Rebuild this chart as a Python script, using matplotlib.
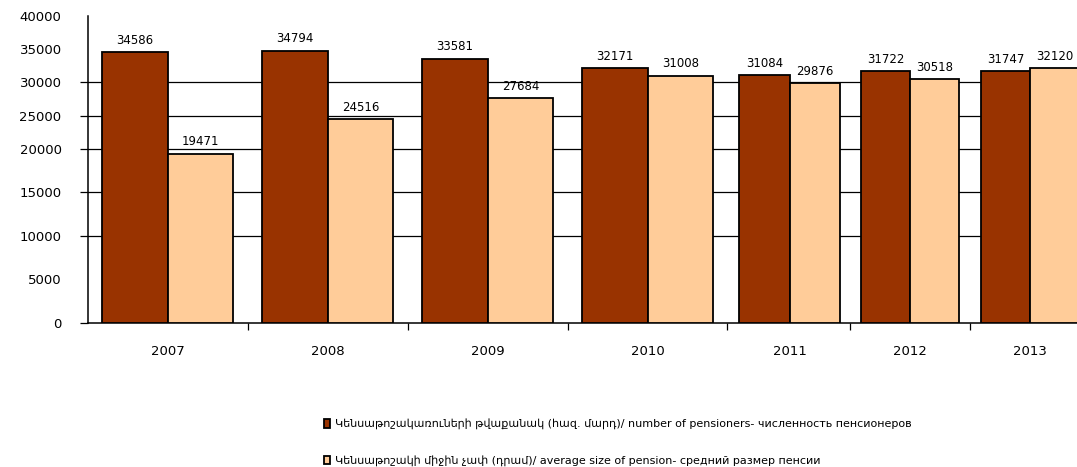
import numpy as np
import matplotlib
matplotlib.use('Agg')
import matplotlib.pyplot as plt

plt.rcParams['font.family'] = ['DejaVu Sans']

# data
years = ['2007', '2008', '2009', '2010', '2011', '2012', '2013']
pensioners = [34586, 34794, 33581, 32171, 31084, 31722, 31747]
avg_pension = [19471, 24516, 27684, 31008, 29876, 30518, 32120]
y_ticks = [0, 5000, 10000, 15000, 20000, 25000, 30000, 35000, 40000]
grid_levels = [10000, 15000, 20000, 25000, 30000]

label_1 = ('Կենսաթոշակառուների թվաքանակ (հազ. մարդ)/ number of pensioners'
           '- численность пенсионеров')
label_2 = ('Կենսաթոշակի միջին չափ (դրամ)/ average size of pension'
           '- средний размер пенсии')

dark = '#993300'
light = '#FFCC99'


# the source picture is squeezed: upper half of y and the last years of x
def y_fwd(v):
    v = np.asarray(v, dtype=float)
    return np.where(v <= 20000, v, 20000 + (v - 20000) * 0.764)


def y_inv(s):
    s = np.asarray(s, dtype=float)
    return np.where(s <= 20000, s, 20000 + (s - 20000) / 0.764)


x_knots = [-10.0, 3.5, 4.0, 20.0]
x_px = [-1433.0, 727.0, 790.0, 2710.0]


def x_fwd(v):
    return np.interp(np.asarray(v, dtype=float), x_knots, x_px)


def x_inv(s):
    return np.interp(np.asarray(s, dtype=float), x_px, x_knots)


fig = plt.figure(figsize=(10.77, 4.67), dpi=100)
ax = fig.add_axes([88 / 1077, 144 / 467, 1 - 88 / 1077, (323 - 16) / 467])
ax.set_xscale('function', functions=(x_fwd, x_inv))
ax.set_yscale('function', functions=(y_fwd, y_inv))

x = np.arange(len(years))
w = 0.41
b1 = ax.bar(x - w / 2, pensioners, width=w, color=dark, edgecolor='black',
            linewidth=1.3, label=label_1, zorder=3)
b2 = ax.bar(x + w / 2, avg_pension, width=w, color=light, edgecolor='black',
            linewidth=1.3, label=label_2, zorder=3)

for bars, vals in ((b1, pensioners), (b2, avg_pension)):
    for rect, v in zip(bars, vals):
        ax.annotate(f'{v:g}', (rect.get_x() + rect.get_width() / 2, v),
                    xytext=(0, 8.5), textcoords='offset points',
                    ha='center', va='center', fontsize=8.5, zorder=4,
                    annotation_clip=False)

ax.set_yticks(y_ticks)
ax.set_yticklabels([str(t) for t in y_ticks], fontsize=9.5)
ax.yaxis.grid(True, color='black', linewidth=0.9)
ax.set_axisbelow(True)
for t, val in zip(ax.yaxis.get_major_ticks(), y_ticks):
    show = val == 0 or val in grid_levels
    t.tick1line.set_visible(show)
    t.gridline.set_visible(val in grid_levels)
ax.tick_params(axis='y', length=6, width=0.9, pad=13, direction='out')

ax.set_xticks(x)
ax.set_xticklabels(years, fontsize=9.5)
ax.set_xticks(np.arange(len(years) - 1) + 0.5, minor=True)
ax.tick_params(axis='x', which='major', length=0, pad=16)
ax.tick_params(axis='x', which='minor', length=5, width=0.9, direction='out')

# limits last, so the tick setters cannot widen them
ax.set_xlim(-0.5, 6.39)
ax.set_ylim(0, 40000)

for s in ('top', 'right'):
    ax.spines[s].set_visible(False)
for s in ('left', 'bottom'):
    ax.spines[s].set_linewidth(1.1)

fig.legend(handles=[b1, b2], loc='upper left',
           bbox_to_anchor=(318 / 1077, 1 - 413 / 467), frameon=False,
           fontsize=8, handlelength=0.6, handleheight=0.8,
           handletextpad=0.4, labelspacing=2.3, borderpad=0)

fig.savefig('out.png', dpi=100)
